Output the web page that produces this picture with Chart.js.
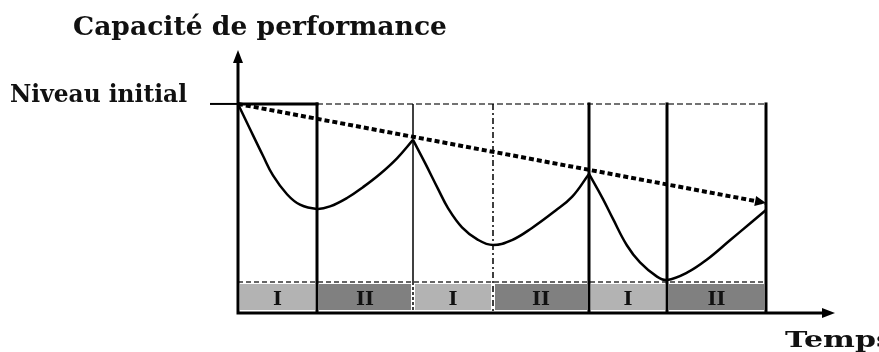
<!DOCTYPE html>
<html>
<head>
<meta charset="utf-8">
<script src="https://cdn.jsdelivr.net/npm/chart.js@4.4.1/dist/chart.umd.min.js"></script>
<style>
  html, body { margin: 0; padding: 0; background: #fff; }
  canvas { display: block; }
</style>
</head>
<body>
<canvas id="graphe" width="879" height="352"></canvas>
<script>
// Données (temps en unités arbitraires, capacité en % du niveau initial)
const temps = [0, 12, 25, 35, 49, 62, 79, 92, 109, 125, 142, 159, 175,
  187, 200, 210, 224, 240, 255, 274, 294, 317, 334, 351,
  365, 375, 389, 402, 419, 429, 449, 469, 492, 512, 528];
const capacite = [100, 88.0, 75.2, 65.8, 56.8, 51.8, 49.8, 51.0, 55.0, 60.2, 66.5, 74.0, 82.8,
  71.8, 59.4, 50.2, 41.0, 35.0, 32.5, 34.9, 40.7, 48.8, 55.5, 66.5,
  54.5, 45.0, 32.3, 24.2, 17.4, 15.8, 19.3, 25.6, 34.8, 42.8, 49.3];
const tendanceTemps = [0, 528];
const tendance = [100, 52.6];
const bornes = [0, 79, 175, 255, 351, 429, 528];
const phases = ['I', 'II', 'I', 'II', 'I', 'II'];
const niveauInitial = 100;

const titreY = 'Capacité de performance';
const titreX = 'Temps';
const labelNiveau = 'Niveau initial';

// style des séparations de phases
const stylesBornes = [
  { w: 3, dash: [] }, { w: 3, dash: [] }, { w: 1.5, dash: [] },
  { w: 1.5, dash: [6, 3, 2, 3] }, { w: 3, dash: [] }, { w: 3, dash: [] }, { w: 3, dash: [] }
];

// un cycle = de pic à pic
const cycles = [];
for (let k = 0; k + 2 < bornes.length; k += 2) {
  const pts = [];
  temps.forEach((t, i) => {
    if (t >= bornes[k] && t <= bornes[k + 2]) pts.push({ x: t, y: capacite[i] });
  });
  cycles.push(pts);
}

function texte(ctx, str, x, yBase, largeur, cap, ref) {
  ctx.font = 'bold 20px "DejaVu Serif"';
  const w = ctx.measureText(ref || str).width;
  const sx = largeur / w, sy = cap / 14.6;
  ctx.save();
  ctx.translate(x, yBase);
  ctx.scale(sx, sy);
  ctx.fillText(str, 0, 0);
  ctx.restore();
}

function fleche(ctx, x, y, ang, len, demi) {
  ctx.save();
  ctx.translate(x, y);
  ctx.rotate(ang);
  ctx.beginPath();
  ctx.moveTo(0, 0);
  ctx.lineTo(-len, -demi);
  ctx.lineTo(-len, demi);
  ctx.closePath();
  ctx.fill();
  ctx.restore();
}

const schema = {
  id: 'schema',
  beforeDatasetsDraw(chart) {
    const ctx = chart.ctx, sx = chart.scales.x, sy = chart.scales.y;
    const y0 = sy.getPixelForValue(0);
    const yN = sy.getPixelForValue(niveauInitial);
    const hautBande = y0 - 31;
    ctx.save();
    // bandes de phases
    phases.forEach((p, i) => {
      const a = sx.getPixelForValue(bornes[i]), b = sx.getPixelForValue(bornes[i + 1]);
      ctx.fillStyle = p === 'I' ? '#b3b3b3' : '#808080';
      ctx.fillRect(a + 2, hautBande + 2, b - a - 4, y0 - hautBande - 5);
      ctx.fillStyle = '#111';
      ctx.font = 'bold 20px "DejaVu Serif"';
      const wII = ctx.measureText('II').width;
      const wp = ctx.measureText(p).width * 18 / wII;
      texte(ctx, p, (a + b) / 2 - wp / 2, y0 - 8, wp, 13);
    });
    // ligne pointillée en haut des bandes
    ctx.strokeStyle = '#333';
    ctx.lineWidth = 1.5;
    ctx.setLineDash([5, 3]);
    ctx.beginPath();
    ctx.moveTo(sx.getPixelForValue(bornes[0]), hautBande);
    ctx.lineTo(sx.getPixelForValue(bornes[bornes.length - 1]), hautBande);
    ctx.stroke();
    // niveau initial pointillé
    ctx.strokeStyle = '#444';
    ctx.setLineDash([6, 3]);
    ctx.beginPath();
    ctx.moveTo(sx.getPixelForValue(bornes[1]), yN);
    ctx.lineTo(sx.getPixelForValue(bornes[bornes.length - 1]), yN);
    ctx.stroke();
    // séparations
    ctx.strokeStyle = '#000';
    bornes.forEach((b, i) => {
      if (i === 0) return;
      const st = stylesBornes[i];
      const x = sx.getPixelForValue(b);
      ctx.lineWidth = st.w;
      ctx.setLineDash(st.dash);
      ctx.beginPath();
      ctx.moveTo(x, yN - (st.w > 2 ? 1.5 : 0));
      if (i === 2) {
        ctx.lineTo(x, hautBande);
        ctx.stroke();
        ctx.setLineDash([3, 2]);
        ctx.beginPath();
        ctx.moveTo(x, hautBande);
      }
      ctx.lineTo(x, y0);
      ctx.stroke();
    });
    ctx.setLineDash([]);
    // cadre du premier bloc
    ctx.lineWidth = 3;
    ctx.beginPath();
    ctx.moveTo(sx.getPixelForValue(bornes[0]), yN);
    ctx.lineTo(sx.getPixelForValue(bornes[1]) + 1.5, yN);
    ctx.stroke();
    ctx.lineWidth = 2;
    ctx.beginPath();
    ctx.moveTo(sx.left - 28, yN);
    ctx.lineTo(sx.left, yN);
    ctx.stroke();
    ctx.restore();
  },
  afterDatasetsDraw(chart) {
    const ctx = chart.ctx, sx = chart.scales.x, sy = chart.scales.y;
    const x0 = sx.getPixelForValue(0), y0 = sy.getPixelForValue(0);
    ctx.save();
    ctx.strokeStyle = '#000';
    ctx.fillStyle = '#000';
    ctx.lineWidth = 3;
    // axes
    ctx.beginPath();
    ctx.moveTo(x0, sy.top + 10);
    ctx.lineTo(x0, y0);
    ctx.lineTo(sx.right - 10, y0);
    ctx.stroke();
    fleche(ctx, x0, sy.top, -Math.PI / 2, 13, 5);
    fleche(ctx, sx.right + 2, y0, 0, 13, 5);
    // flèche de la tendance
    const ax = sx.getPixelForValue(tendanceTemps[0]), ay = sy.getPixelForValue(tendance[0]);
    const bx = sx.getPixelForValue(tendanceTemps[1]), by = sy.getPixelForValue(tendance[1]);
    fleche(ctx, bx, by, Math.atan2(by - ay, bx - ax), 11, 5);
    // textes
    ctx.fillStyle = '#111';
    texte(ctx, titreY, 73, 35, 374, 19);
    texte(ctx, labelNiveau, 10, 102, 177, 18);
    texte(ctx, titreX, 785, 347, 91, 16, 'Temp');
    ctx.restore();
  }
};

const datasets = cycles.map(pts => ({
  data: pts,
  showLine: true,
  borderColor: '#000',
  borderWidth: 2.5,
  pointRadius: 0,
  tension: 0.4,
  clip: false
}));
datasets.push({
  data: tendanceTemps.map((t, i) => ({ x: t, y: tendance[i] })),
  showLine: true,
  borderColor: '#000',
  borderWidth: 4,
  borderDash: [5, 3],
  pointRadius: 0,
  clip: false
});

new Chart(document.getElementById('graphe'), {
  type: 'scatter',
  data: { datasets: datasets },
  options: {
    responsive: false,
    animation: false,
    layout: { padding: { left: 238, right: 46, top: 50, bottom: 39 } },
    plugins: { legend: { display: false }, tooltip: { enabled: false }, title: { display: false } },
    scales: {
      x: { type: 'linear', min: 0, max: 595, display: false },
      y: { type: 'linear', min: 0, max: 125.8, display: false }
    }
  },
  plugins: [schema]
});
</script>
</body>
</html>
